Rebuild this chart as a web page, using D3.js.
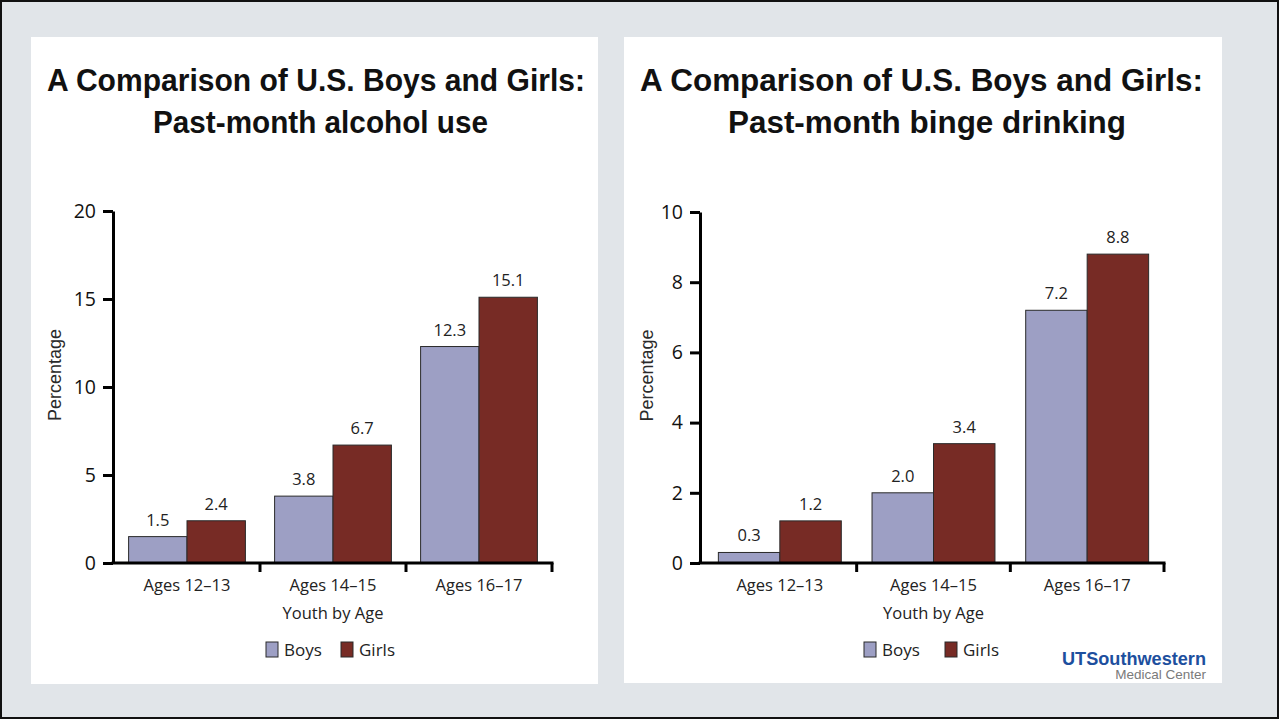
<!DOCTYPE html>
<html>
<head>
<meta charset="utf-8">
<script src="https://cdn.jsdelivr.net/npm/d3@7"></script>
<style>
  html, body { margin: 0; padding: 0; background: #e1e5e9; }
  svg { display: block; }
</style>
</head>
<body>
<svg id="chart" width="1279" height="719"></svg>
<script>
// ---------------- DATA ----------------
const categories = ["Ages 12–13", "Ages 14–15", "Ages 16–17"];
const seriesNames = ["Boys", "Girls"];
const alcoholBoys = [1.5, 3.8, 12.3];
const alcoholGirls = [2.4, 6.7, 15.1];
const bingeBoys = [0.3, 2.0, 7.2];
const bingeGirls = [1.2, 3.4, 8.8];
const alcoholTicks = [0, 5, 10, 15, 20];
const bingeTicks = [0, 2, 4, 6, 8, 10];
const alcoholLabels = ["1.5", "3.8", "12.3"];
const alcoholGirlLabels = ["2.4", "6.7", "15.1"];
const bingeLabels = ["0.3", "2.0", "7.2"];
const bingeGirlLabels = ["1.2", "3.4", "8.8"];
const titleLine1 = "A Comparison of U.S. Boys and Girls:";
const alcoholTitle2 = "Past-month alcohol use";
const bingeTitle2 = "Past-month binge drinking";
const xAxisTitle = "Youth by Age";
const yAxisTitle = "Percentage";

// ---------------- STYLE / LAYOUT ----------------
const colors = { Boys: "#9d9fc4", Girls: "#772b25" };
const chartFont = "'Open Sans', 'DejaVu Sans', sans-serif";
const titleFont = "'Liberation Sans', Arial, sans-serif";

const svg = d3.select("#chart");

// background + border
svg.append("rect").attr("x", 1).attr("y", 1).attr("width", 1277).attr("height", 717)
  .attr("fill", "#e1e5e9").attr("stroke", "#111").attr("stroke-width", 2);

const panels = [
  {
    panel: { x: 31, y: 37, w: 567, h: 647 },
    title2: alcoholTitle2,
    t1: { x: 47, len: 538 }, t2: { x: 153, len: 335 },
    boys: alcoholBoys, girls: alcoholGirls,
    bLab: alcoholLabels, gLab: alcoholGirlLabels,
    ticks: alcoholTicks, yMax: 20,
    axisX: 113, band: [114, 552], yRange: [563, 211],
    yLabelX: 61, legendX: 266
  },
  {
    panel: { x: 624, y: 37, w: 598, h: 646 },
    title2: bingeTitle2,
    t1: { x: 640, len: 563 }, t2: { x: 728, len: 398 },
    boys: bingeBoys, girls: bingeGirls,
    bLab: bingeLabels, gLab: bingeGirlLabels,
    ticks: bingeTicks, yMax: 10,
    axisX: 700, band: [703, 1164], yRange: [563, 212],
    yLabelX: 653, legendX: 864
  }
];

panels.forEach(p => {
  const g = svg.append("g");
  g.append("rect").attr("x", p.panel.x).attr("y", p.panel.y)
    .attr("width", p.panel.w).attr("height", p.panel.h).attr("fill", "#ffffff");

  // titles
  g.append("text").attr("x", p.t1.x).attr("y", 91)
    .attr("font-family", titleFont).attr("font-weight", "bold").attr("font-size", 32)
    .attr("textLength", p.t1.len).attr("lengthAdjust", "spacingAndGlyphs")
    .attr("fill", "#111").text(titleLine1);
  g.append("text").attr("x", p.t2.x).attr("y", 133)
    .attr("font-family", titleFont).attr("font-weight", "bold").attr("font-size", 32)
    .attr("textLength", p.t2.len).attr("lengthAdjust", "spacingAndGlyphs")
    .attr("fill", "#111").text(p.title2);

  // scales
  const x0 = d3.scaleBand().domain(categories).range(p.band).padding(0);
  const x1 = d3.scaleBand().domain(seriesNames).range([0, x0.bandwidth()])
    .paddingInner(0).paddingOuter(0.25);
  const y = d3.scaleLinear().domain([0, p.yMax]).range(p.yRange);

  const rows = categories.map((c, i) => ({
    cat: c,
    vals: [
      { s: "Boys", v: p.boys[i], lab: p.bLab[i] },
      { s: "Girls", v: p.girls[i], lab: p.gLab[i] }
    ]
  }));

  // bars
  const groups = g.selectAll(".grp").data(rows).enter().append("g")
    .attr("transform", d => `translate(${x0(d.cat)},0)`);
  groups.selectAll("rect").data(d => d.vals).enter().append("rect")
    .attr("x", d => x1(d.s))
    .attr("y", d => y(d.v))
    .attr("width", x1.bandwidth())
    .attr("height", d => y(0) - y(d.v))
    .attr("fill", d => colors[d.s])
    .attr("stroke", "#2a2a2a").attr("stroke-width", 1);
  groups.selectAll("text").data(d => d.vals).enter().append("text")
    .attr("x", d => x1(d.s) + x1.bandwidth() / 2)
    .attr("y", d => y(d.v) - 11)
    .attr("text-anchor", "middle")
    .attr("font-family", chartFont).attr("font-size", 16.5).attr("fill", "#222")
    .text(d => d.lab);

  // y axis
  const yAxis = d3.axisLeft(y).tickValues(p.ticks).tickSize(10).tickSizeOuter(0)
    .tickPadding(7).tickFormat(d3.format("d"));
  const ya = g.append("g").attr("transform", `translate(${p.axisX},0)`).call(yAxis);
  ya.select(".domain").attr("stroke", "#000").attr("stroke-width", 3);
  ya.selectAll(".tick line").attr("stroke", "#000").attr("stroke-width", 3);
  ya.selectAll(".tick text").attr("font-family", chartFont).attr("font-size", 19.5)
    .attr("fill", "#111");

  // x axis line
  g.append("line").attr("x1", p.axisX - 1.5).attr("x2", p.band[1] + 1.5)
    .attr("y1", y(0)).attr("y2", y(0)).attr("stroke", "#000").attr("stroke-width", 3);
  // x ticks at band boundaries
  g.selectAll(".xtick").data(categories).enter().append("line")
    .attr("x1", d => x0(d) + x0.bandwidth())
    .attr("x2", d => x0(d) + x0.bandwidth())
    .attr("y1", y(0)).attr("y2", y(0) + 9)
    .attr("stroke", "#000").attr("stroke-width", 3);
  // category labels
  g.selectAll(".xlab").data(categories).enter().append("text")
    .attr("x", d => x0(d) + x0.bandwidth() / 2)
    .attr("y", y(0) + 28)
    .attr("text-anchor", "middle")
    .attr("font-family", chartFont).attr("font-size", 16.5).attr("fill", "#222")
    .text(d => d);

  // x title
  g.append("text").attr("x", x0(categories[1]) + x0.bandwidth() / 2).attr("y", y(0) + 56)
    .attr("text-anchor", "middle")
    .attr("font-family", chartFont).attr("font-size", 16.5).attr("fill", "#222")
    .text(xAxisTitle);

  // y title
  g.append("text")
    .attr("transform", `translate(${p.yLabelX},${(p.yRange[0] + p.yRange[1]) / 2 - 12}) rotate(-90)`)
    .attr("text-anchor", "middle")
    .attr("font-family", titleFont).attr("font-size", 18).attr("fill", "#2a2a2a")
    .text(yAxisTitle);

  // legend
  const lg = g.append("g").attr("transform", `translate(${p.legendX},642)`);
  const step = p.legendX > 600 ? 81 : 75;
  seriesNames.forEach((s, i) => {
    lg.append("rect").attr("x", i * step).attr("y", 0).attr("width", 12).attr("height", 15)
      .attr("fill", colors[s]).attr("stroke", "#2a2a2a").attr("stroke-width", 1);
    lg.append("text").attr("x", i * step + 18).attr("y", 14)
      .attr("font-family", chartFont).attr("font-size", 17).attr("fill", "#222")
      .text(s);
  });
});

// logo
svg.append("text").attr("x", 1062).attr("y", 665)
  .attr("font-family", titleFont).attr("font-weight", "bold").attr("font-size", 18)
  .attr("textLength", 144).attr("lengthAdjust", "spacingAndGlyphs")
  .attr("fill", "#1d4f9e").text("UTSouthwestern");
svg.append("text").attr("x", 1206).attr("y", 679)
  .attr("text-anchor", "end")
  .attr("font-family", titleFont).attr("font-size", 13.5)
  .attr("fill", "#7a7a7a").text("Medical Center");
</script>
</body>
</html>
